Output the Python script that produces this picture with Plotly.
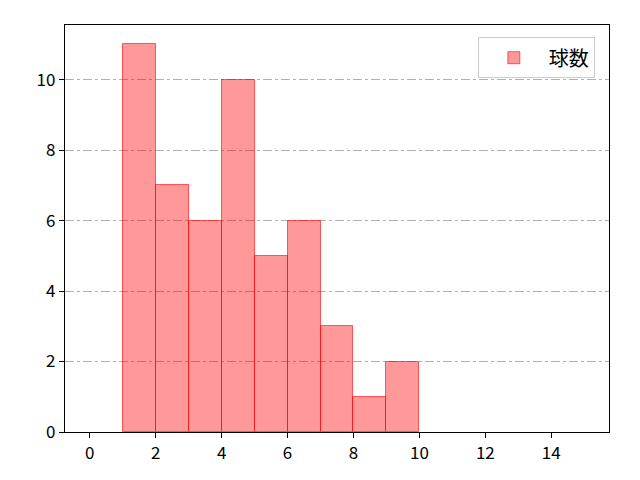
import plotly.graph_objects as go

# histogram bins (left edges) and counts
bin_left = [1, 2, 3, 4, 5, 6, 7, 8, 9]
counts = [11, 7, 6, 10, 5, 6, 3, 1, 2]
x_ticks = [0, 2, 4, 6, 8, 10, 12, 14]
y_ticks = [0, 2, 4, 6, 8, 10]

fig = go.Figure()
fig.add_trace(go.Bar(
    x=bin_left, y=counts, width=1, offset=0, name="球数",
    marker=dict(color="rgba(255,0,0,0.4)", line=dict(color="rgba(255,0,0,0.6)", width=1)),
    showlegend=True,
))

axis_common = dict(
    showline=True, linecolor="black", linewidth=1.3, mirror=True,
    ticks="outside", ticklen=5, tickcolor="black",
    tickfont=dict(size=17, color="black"), zeroline=False,
)
fig.update_xaxes(range=[-0.75, 15.75], tickvals=x_ticks, showgrid=False, **axis_common)
fig.update_yaxes(range=[0, 11.55], tickvals=y_ticks, showgrid=True,
                 gridcolor="#b0b0b0", griddash="dashdot", gridwidth=0.8, **axis_common)

fig.update_layout(
    width=640, height=480,
    margin=dict(l=57, r=39, t=17, b=56),
    plot_bgcolor="white", paper_bgcolor="white",
    font=dict(family="Noto Sans CJK JP", size=17, color="black"),
    bargap=0,
    legend=dict(x=0.974, y=0.97, xanchor="right", yanchor="top",
                bgcolor="rgba(255,255,255,0.8)", bordercolor="#cccccc", borderwidth=1,
                font=dict(size=20), itemwidth=60),
)
fig.write_html("out.html")
